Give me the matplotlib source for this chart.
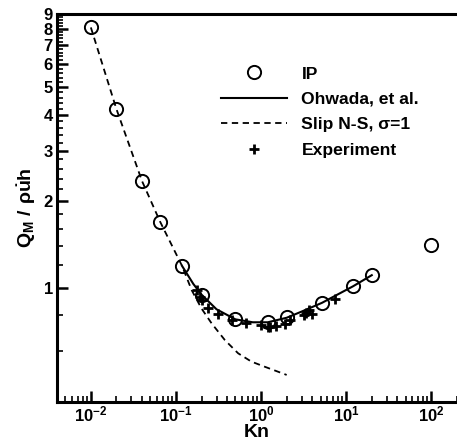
import numpy as np
import matplotlib
matplotlib.use('Agg')
import matplotlib.pyplot as plt
from matplotlib.ticker import FixedLocator, NullFormatter, LogLocator, LogFormatterSciNotation

plt.rcParams['font.family'] = ['Liberation Sans', 'DejaVu Sans']
plt.rcParams['font.weight'] = 'bold'
plt.rcParams['axes.unicode_minus'] = False
plt.rcParams['mathtext.fontset'] = 'custom'
plt.rcParams['mathtext.rm'] = 'Liberation Sans:bold'
plt.rcParams['mathtext.it'] = 'Liberation Sans:bold'
plt.rcParams['mathtext.bf'] = 'Liberation Sans:bold'

# IP (circles)
ip_kn = [0.01, 0.02, 0.04, 0.065, 0.118, 0.2, 0.5, 1.2, 2.0, 5.2, 12.0, 20.0, 100.0]
ip_q = [8.08, 4.19, 2.35, 1.70, 1.19, 0.945, 0.775, 0.76, 0.79, 0.885, 1.01, 1.105, 1.41]

# Ohwada, et al. (solid)
oh_kn = [0.118, 0.16, 0.2, 0.3, 0.5, 0.8, 1.2, 2.0, 3.0, 5.2, 12.0, 20.0]
oh_q = [1.19, 1.03, 0.945, 0.84, 0.775, 0.757, 0.757, 0.785, 0.825, 0.885, 1.01, 1.105]

# Slip N-S, sigma=1 (dashed)
ns_kn = [0.01, 0.02, 0.04, 0.065, 0.118, 0.153, 0.2, 0.262, 0.376, 0.538, 0.77, 1.1, 2.0]
ns_q = [8.08, 4.19, 2.35, 1.70, 1.19, 0.98, 0.845, 0.751, 0.656, 0.590, 0.552, 0.53, 0.496]

# Experiment (+)
ex_kn = [0.175, 0.19, 0.2, 0.24, 0.31, 0.45, 0.67, 1.0, 1.2, 1.26, 1.5, 1.9, 2.16,
         3.2, 3.4, 3.7, 4.0, 7.3]
ex_q = [0.98, 0.93, 0.905, 0.847, 0.81, 0.77, 0.75, 0.74, 0.73, 0.727, 0.735, 0.745, 0.77,
        0.80, 0.814, 0.835, 0.81, 0.91]

y_major = [1, 2, 3, 4, 5, 6, 7, 8, 9]
y_minor = [round(v, 1) for v in np.arange(0.4, 9.0, 0.2) if abs(v - round(v)) > 1e-6]

fig = plt.figure(figsize=(4.57, 4.47), dpi=100)
ax = fig.add_axes([0.1247, 0.1013, 0.875, 0.8674])

ax.plot(ns_kn, ns_q, linestyle=(0, (3.5, 2.5)), color='black', lw=1.3, label='Slip N-S, σ=1')
ax.plot(oh_kn, oh_q, '-', color='black', lw=1.5, label='Ohwada, et al.')
ax.plot(ip_kn, ip_q, 'o', mfc='none', mec='black', ms=9.5, mew=1.4, label='IP')
ax.plot(ex_kn, ex_q, '+', color='black', ms=6.5, mew=2.0, label='Experiment')

ax.set_xscale('log')
ax.set_yscale('log')
ax.set_xlim(0.004, 200)
ax.set_ylim(0.4, 9)

ax.xaxis.set_major_locator(LogLocator(base=10, numticks=10))
ax.xaxis.set_major_formatter(LogFormatterSciNotation())
ax.xaxis.set_minor_locator(LogLocator(base=10, subs=np.arange(2, 10), numticks=20))
ax.xaxis.set_minor_formatter(NullFormatter())

ax.yaxis.set_major_locator(FixedLocator(y_major))
ax.yaxis.set_major_formatter(plt.FuncFormatter(lambda v, _: f'{v:g}'))
ax.yaxis.set_minor_locator(FixedLocator(y_minor))
ax.yaxis.set_minor_formatter(NullFormatter())

ax.tick_params(which='major', direction='in', length=8, width=1.8, labelsize=12, pad=3)
ax.tick_params(which='minor', direction='in', length=4, width=1.2)
ax.tick_params(axis='x', which='major', pad=2)
ax.tick_params(top=False, right=False)

for s in ['left', 'bottom', 'top']:
    ax.spines[s].set_linewidth(2.2)
ax.spines['right'].set_visible(False)

ax.set_xlabel('Kn', fontsize=14, fontweight='bold', labelpad=0)
ax.set_ylabel(r'$Q_M\ /\ \rho\dot{u}h$', fontsize=14, labelpad=4)

handles, labels = ax.get_legend_handles_labels()
order = [2, 1, 0, 3]
ax.legend([handles[i] for i in order], [labels[i] for i in order],
          loc='upper left', bbox_to_anchor=(0.41, 0.865), frameon=False,
          fontsize=12.6, handlelength=3.8, handletextpad=0.8, labelspacing=0.58,
          borderpad=0, borderaxespad=0)

fig.savefig('out.png', dpi=100)
